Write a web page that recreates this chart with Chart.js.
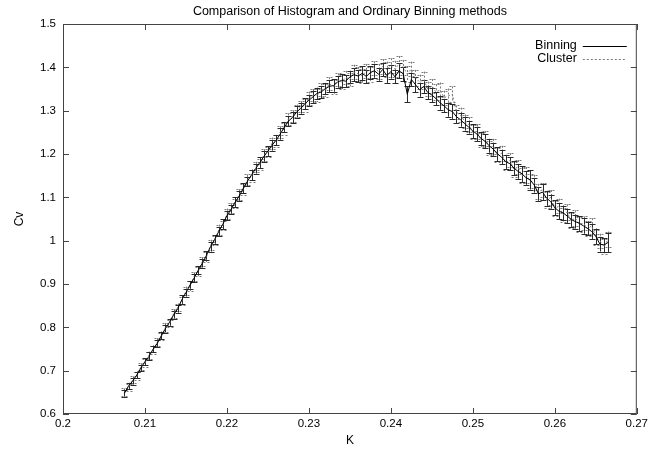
<!DOCTYPE html>
<html>
<head>
<meta charset="utf-8">
<script src="https://cdn.jsdelivr.net/npm/chart.js@4/dist/chart.umd.min.js"></script>
<style>
  html, body { margin: 0; padding: 0; background: #fff; }
  #wrap { width: 651px; height: 453px; }
</style>
</head>
<body>
<div id="wrap"><canvas id="c" width="651" height="453"></canvas></div>
<script>
// Coupling K
const K = [0.2075,0.208,0.2085,0.209,0.2095,0.21,0.2105,0.211,0.2115,0.212,
  0.2125,0.213,0.2135,0.214,0.2145,0.215,0.2155,0.216,0.2165,0.217,
  0.2175,0.218,0.2185,0.219,0.2195,0.22,0.2205,0.221,0.2215,0.222,
  0.2225,0.223,0.2235,0.224,0.2245,0.225,0.2255,0.226,0.2265,0.227,
  0.2275,0.228,0.2285,0.229,0.2295,0.23,0.2305,0.231,0.2315,0.232,
  0.2325,0.233,0.2335,0.234,0.2345,0.235,0.2355,0.236,0.2365,0.237,
  0.2375,0.238,0.2385,0.239,0.2395,0.24,0.2405,0.241,0.2415,0.242,
  0.2425,0.243,0.2435,0.244,0.2445,0.245,0.2455,0.246,0.2465,0.247,
  0.2475,0.248,0.2485,0.249,0.2495,0.25,0.2505,0.251,0.2515,0.252,
  0.2525,0.253,0.2535,0.254,0.2545,0.255,0.2555,0.256,0.2565,0.257,
  0.2575,0.258,0.2585,0.259,0.2595,0.26,0.2605,0.261,0.2615,0.262,
  0.2625,0.263,0.2635,0.264,0.2645,0.265,0.2655,0.266,0.2665];

// Specific heat Cv, ordinary binning
const binning = [0.648,0.665,0.676,0.690,0.706,0.721,0.733,0.750,0.763,0.781,
  0.797,0.812,0.829,0.843,0.864,0.880,0.898,0.914,0.932,0.948,
  0.966,0.986,1.003,1.021,1.038,1.058,1.072,1.089,1.103,1.121,
  1.137,1.152,1.166,1.180,1.194,1.207,1.220,1.232,1.246,1.262,
  1.276,1.284,1.297,1.305,1.316,1.324,1.332,1.340,1.343,1.351,
  1.356,1.358,1.366,1.370,1.368,1.378,1.383,1.380,1.386,1.379,
  1.388,1.392,1.384,1.395,1.381,1.390,1.378,1.392,1.385,1.338,
  1.372,1.360,1.348,1.356,1.342,1.336,1.328,1.318,1.311,1.302,
  1.298,1.286,1.279,1.270,1.262,1.253,1.246,1.236,1.229,1.219,
  1.211,1.200,1.193,1.182,1.178,1.168,1.160,1.154,1.145,1.140,
  1.128,1.108,1.112,1.098,1.090,1.076,1.068,1.064,1.057,1.049,
  1.044,1.040,1.034,1.028,1.021,1.010,0.992,0.990,0.996];

const binningErr = [0.008,0.007,0.008,0.008,0.007,0.008,0.009,0.008,0.008,0.009,
  0.009,0.008,0.009,0.009,0.010,0.009,0.009,0.010,0.009,0.010,
  0.010,0.011,0.010,0.010,0.011,0.011,0.010,0.011,0.011,0.012,
  0.011,0.012,0.011,0.012,0.012,0.011,0.012,0.012,0.013,0.012,
  0.012,0.013,0.013,0.012,0.013,0.013,0.014,0.013,0.014,0.013,
  0.014,0.014,0.013,0.015,0.014,0.014,0.015,0.014,0.016,0.015,
  0.015,0.016,0.015,0.016,0.017,0.016,0.015,0.017,0.016,0.018,
  0.016,0.017,0.016,0.015,0.016,0.017,0.015,0.016,0.015,0.016,
  0.017,0.015,0.016,0.016,0.015,0.016,0.017,0.015,0.016,0.016,
  0.015,0.016,0.017,0.016,0.015,0.016,0.017,0.018,0.016,0.022,
  0.017,0.016,0.018,0.017,0.016,0.017,0.018,0.017,0.016,0.017,
  0.016,0.017,0.018,0.016,0.017,0.018,0.017,0.016,0.022];

// Specific heat Cv, cluster histogram
const cluster = [0.650,0.662,0.679,0.688,0.709,0.718,0.736,0.748,0.766,0.779,
  0.800,0.809,0.832,0.846,0.861,0.884,0.895,0.917,0.929,0.952,
  0.962,0.990,1.000,1.025,1.035,1.062,1.075,1.086,1.107,1.118,
  1.141,1.149,1.170,1.176,1.198,1.204,1.225,1.229,1.251,1.258,
  1.281,1.287,1.300,1.309,1.312,1.329,1.336,1.335,1.349,1.347,
  1.362,1.355,1.371,1.366,1.377,1.372,1.389,1.385,1.380,1.392,
  1.384,1.398,1.390,1.402,1.395,1.404,1.396,1.408,1.400,1.385,
  1.396,1.376,1.366,1.372,1.350,1.357,1.343,1.348,1.330,1.334,
  1.338,1.296,1.290,1.275,1.268,1.250,1.252,1.232,1.236,1.214,
  1.218,1.198,1.202,1.180,1.186,1.165,1.170,1.150,1.152,1.138,
  1.134,1.114,1.117,1.094,1.100,1.074,1.080,1.060,1.066,1.046,
  1.052,1.038,1.040,1.028,1.034,1.008,1.000,0.986,1.003];

const clusterErr = [0.009,0.008,0.008,0.009,0.008,0.009,0.008,0.009,0.009,0.008,
  0.010,0.009,0.010,0.009,0.010,0.010,0.011,0.010,0.011,0.010,
  0.011,0.012,0.011,0.012,0.011,0.012,0.012,0.011,0.012,0.013,
  0.012,0.013,0.012,0.013,0.013,0.012,0.013,0.014,0.013,0.014,
  0.013,0.014,0.014,0.013,0.014,0.015,0.014,0.015,0.014,0.015,
  0.015,0.016,0.015,0.016,0.015,0.016,0.017,0.016,0.017,0.016,
  0.017,0.016,0.018,0.017,0.018,0.017,0.019,0.018,0.017,0.018,
  0.017,0.018,0.017,0.018,0.017,0.016,0.018,0.017,0.016,0.017,
  0.018,0.016,0.017,0.016,0.017,0.016,0.017,0.016,0.017,0.016,
  0.017,0.016,0.017,0.018,0.016,0.017,0.016,0.017,0.018,0.017,
  0.018,0.017,0.016,0.018,0.017,0.018,0.017,0.016,0.018,0.017,
  0.018,0.017,0.016,0.017,0.018,0.017,0.016,0.017,0.018];

const xTicks = [0.2, 0.21, 0.22, 0.23, 0.24, 0.25, 0.26, 0.27];
const xTickLabels = ['0.2','0.21','0.22','0.23','0.24','0.25','0.26','0.27'];
const yTicks = [0.6, 0.7, 0.8, 0.9, 1.0, 1.1, 1.2, 1.3, 1.4, 1.5];
const yTickLabels = ['0.6','0.7','0.8','0.9','1','1.1','1.2','1.3','1.4','1.5'];

const FONT = '"Liberation Sans", Arial, Helvetica, sans-serif';
const FRAME = '#444';
const BIN_COLOR = '#000';
const BIN_ERR_COLOR = '#2a2a2a';
const CLU_COLOR = '#7a7a7a';
const CLU_DASH = [2, 2];

const toPoints = (ys) => K.map((k, i) => ({ x: k, y: ys[i] }));

// Vertical error bars with small caps, drawn through the chart scales
const errorBars = {
  id: 'errorBars',
  beforeDatasetsDraw(chart) {
    const { ctx, chartArea, scales: { x, y } } = chart;
    const sets = [
      { vals: cluster, err: clusterErr, color: CLU_COLOR, dash: CLU_DASH },
      { vals: binning, err: binningErr, color: BIN_ERR_COLOR, dash: [] }
    ];
    ctx.save();
    ctx.beginPath();
    ctx.rect(chartArea.left, chartArea.top, chartArea.right - chartArea.left, chartArea.bottom - chartArea.top);
    ctx.clip();
    ctx.lineWidth = 1;
    for (const s of sets) {
      ctx.strokeStyle = s.color;
      ctx.setLineDash(s.dash);
      ctx.beginPath();
      K.forEach((k, i) => {
        const px = Math.round(x.getPixelForValue(k)) + 0.5;
        const yHi = y.getPixelForValue(s.vals[i] + s.err[i]);
        const yLo = y.getPixelForValue(s.vals[i] - s.err[i]);
        ctx.moveTo(px, yHi); ctx.lineTo(px, yLo);
        ctx.moveTo(px - 3, Math.round(yHi) + 0.5); ctx.lineTo(px + 3, Math.round(yHi) + 0.5);
        ctx.moveTo(px - 3, Math.round(yLo) + 0.5); ctx.lineTo(px + 3, Math.round(yLo) + 0.5);
      });
      ctx.stroke();
    }
    ctx.restore();
  }
};

// Frame, inward tick marks, titles and the key
const decorations = {
  id: 'decorations',
  afterDraw(chart) {
    const { ctx, chartArea: a, scales: { x, y } } = chart;
    ctx.save();
    ctx.lineWidth = 1;
    ctx.strokeStyle = FRAME;
    ctx.setLineDash([]);
    ctx.strokeRect(a.left + 0.5, a.top + 0.5, a.right - a.left - 1, a.bottom - a.top - 1);
    ctx.beginPath();
    const T = 6;
    xTicks.forEach(v => {
      const px = Math.round(x.getPixelForValue(v)) + 0.5;
      ctx.moveTo(px, a.bottom); ctx.lineTo(px, a.bottom - T);
      ctx.moveTo(px, a.top); ctx.lineTo(px, a.top + T);
    });
    yTicks.forEach(v => {
      const py = Math.round(y.getPixelForValue(v)) + 0.5;
      ctx.moveTo(a.left, py); ctx.lineTo(a.left + T, py);
      ctx.moveTo(a.right, py); ctx.lineTo(a.right - T, py);
    });
    ctx.stroke();

    ctx.fillStyle = '#000';
    ctx.textAlign = 'center';
    ctx.textBaseline = 'middle';
    ctx.font = '12.5px ' + FONT;
    ctx.fillText('Comparison of Histogram and Ordinary Binning methods', (a.left + a.right) / 2, 12);
    ctx.font = '12px ' + FONT;
    ctx.fillText('K', (a.left + a.right) / 2, 441);
    ctx.save();
    ctx.translate(20, (a.top + a.bottom) / 2);
    ctx.rotate(-Math.PI / 2);
    ctx.fillText('Cv', 0, 0);
    ctx.restore();

    // key
    ctx.font = '12.5px ' + FONT;
    ctx.textAlign = 'right';
    const keyX = a.right - 60, lineL = a.right - 54, lineR = a.right - 10;
    const rows = [
      { label: 'Binning', color: BIN_COLOR, dash: [], y: 46 },
      { label: 'Cluster', color: CLU_COLOR, dash: CLU_DASH, y: 59 }
    ];
    rows.forEach(r => {
      ctx.fillStyle = '#000';
      ctx.fillText(r.label, keyX, r.y);
      ctx.strokeStyle = r.color;
      ctx.setLineDash(r.dash);
      ctx.beginPath();
      ctx.moveTo(lineL, r.y + 0.5); ctx.lineTo(lineR, r.y + 0.5);
      ctx.stroke();
    });
    ctx.restore();
  }
};

new Chart(document.getElementById('c'), {
  type: 'scatter',
  data: {
    datasets: [
      { label: 'Binning', data: toPoints(binning), showLine: true, borderColor: BIN_COLOR,
        borderWidth: 1, pointRadius: 0, tension: 0 },
      { label: 'Cluster', data: toPoints(cluster), showLine: true, borderColor: CLU_COLOR,
        borderDash: CLU_DASH, borderWidth: 1, pointRadius: 0, tension: 0 }
    ]
  },
  options: {
    responsive: false,
    animation: false,
    layout: { padding: { top: 24, right: 10, left: 0, bottom: 0 } },
    plugins: { legend: { display: false }, title: { display: false }, tooltip: { enabled: false } },
    scales: {
      x: {
        type: 'linear', min: 0.2, max: 0.27,
        afterFit(s) { s.height = 39; },
        afterBuildTicks(s) { s.ticks = xTicks.map(v => ({ value: v })); },
        grid: { display: false, drawTicks: false },
        border: { display: false },
        ticks: {
          color: '#000', font: { family: FONT, size: 11.5 }, padding: 3, maxRotation: 0, autoSkip: false,
          callback: (v) => { const i = xTicks.findIndex(t => Math.abs(t - v) < 1e-9); return i >= 0 ? xTickLabels[i] : ''; }
        }
      },
      y: {
        type: 'linear', min: 0.6, max: 1.5,
        afterFit(s) { s.width = 63; },
        afterBuildTicks(s) { s.ticks = yTicks.map(v => ({ value: v })); },
        grid: { display: false, drawTicks: false },
        border: { display: false },
        ticks: {
          color: '#000', font: { family: FONT, size: 11.5 }, padding: 7, autoSkip: false,
          callback: (v) => { const i = yTicks.findIndex(t => Math.abs(t - v) < 1e-9); return i >= 0 ? yTickLabels[i] : ''; }
        }
      }
    }
  },
  plugins: [errorBars, decorations]
});
</script>
</body>
</html>
